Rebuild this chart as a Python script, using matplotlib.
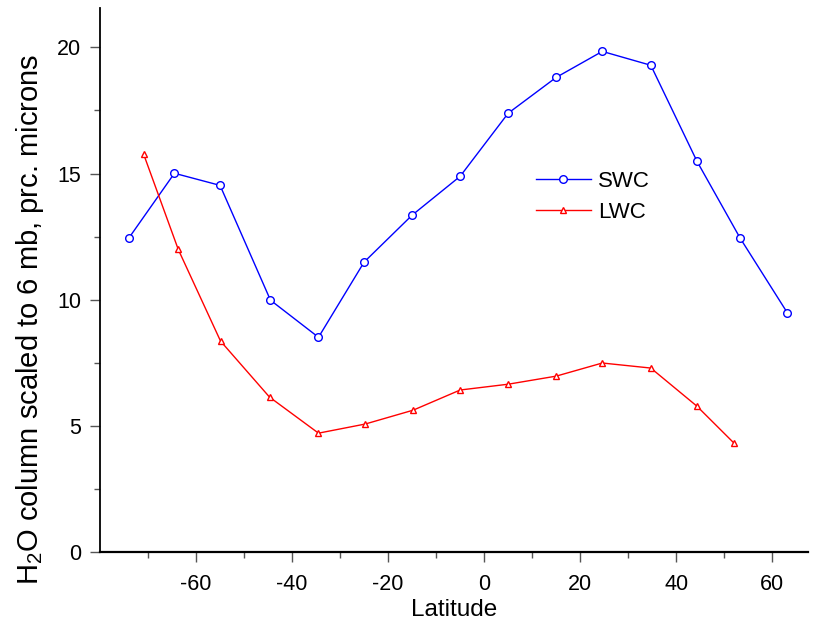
#!/usr/bin/env python3
"""Water column (SWC / LWC) versus latitude -> out.png"""

import matplotlib
matplotlib.use("Agg")
import matplotlib.pyplot as plt
from matplotlib.ticker import FixedLocator

plt.rcParams["font.family"] = ["Liberation Sans", "DejaVu Sans"]
plt.rcParams["mathtext.fontset"] = "custom"
plt.rcParams["mathtext.rm"] = "Liberation Sans"
plt.rcParams["axes.unicode_minus"] = False

swc_lat = [-74, -64.5, -55, -44.5, -34.5, -25, -15, -5, 5, 15, 24.6, 34.7, 44.3, 53.3, 63.1]
swc_val = [12.44, 15.01, 14.53, 9.98, 8.51, 11.49, 13.35, 14.89, 17.39, 18.81, 19.84, 19.29, 15.49, 12.44, 9.49]

lwc_lat = [-70.9, -63.7, -54.9, -44.7, -34.5, -24.8, -14.8, -5, 5, 15, 24.6, 34.7, 44.3, 52.0]
lwc_val = [15.76, 11.99, 8.36, 6.14, 4.71, 5.07, 5.62, 6.42, 6.65, 6.97, 7.49, 7.29, 5.78, 4.32]

x_major = [-60, -40, -20, 0, 20, 40, 60]
x_minor = [-70, -50, -30, -10, 10, 30, 50]
y_major = [0, 5, 10, 15, 20]
y_minor = [2.5, 7.5, 12.5, 17.5]


def main():
    fig = plt.figure(figsize=(8.25, 6.25), dpi=100)
    ax = fig.add_axes([0.1212, 0.1168, 0.858, 0.870])

    ax.plot(swc_lat, swc_val, color="#0000ff", linewidth=1.0, marker="o",
            markersize=5.5, markerfacecolor="white", markeredgecolor="#0000ff",
            markeredgewidth=1.0, label="SWC")
    ax.plot(lwc_lat, lwc_val, color="#ff0000", linewidth=1.0, marker="^",
            markersize=5, markerfacecolor="white", markeredgecolor="#ff0000",
            markeredgewidth=1.0, label="LWC")

    ax.set_xlim(-80, 67.4)
    ax.set_ylim(0, 21.55)
    ax.set_xticks(x_major)
    ax.set_yticks(y_major)
    ax.xaxis.set_minor_locator(FixedLocator(x_minor))
    ax.yaxis.set_minor_locator(FixedLocator(y_minor))

    for side in ("top", "right"):
        ax.spines[side].set_visible(False)
    ax.spines["left"].set_linewidth(1.3)
    ax.spines["bottom"].set_linewidth(1.6)

    ax.tick_params(which="major", direction="out", length=7, width=1,
                   labelsize=15.5, color="#555555")
    ax.tick_params(which="minor", direction="out", length=4, width=1,
                   color="#555555")
    ax.tick_params(axis="x", which="major", pad=9)
    ax.tick_params(axis="y", which="major", pad=6.5)

    ax.set_xlabel("Latitude", fontsize=17.5, labelpad=3)
    ax.set_ylabel("H$_2$O column scaled to 6 mb, prc. microns", fontsize=21)
    ax.yaxis.set_label_coords(-0.076, 0.428)

    ax.legend(loc="upper left", bbox_to_anchor=(0.603, 0.717), frameon=False,
              fontsize=16, handlelength=2.5, handletextpad=0.3,
              labelspacing=0.45, borderaxespad=0)

    fig.savefig("out.png", dpi=100)


if __name__ == "__main__":
    main()
